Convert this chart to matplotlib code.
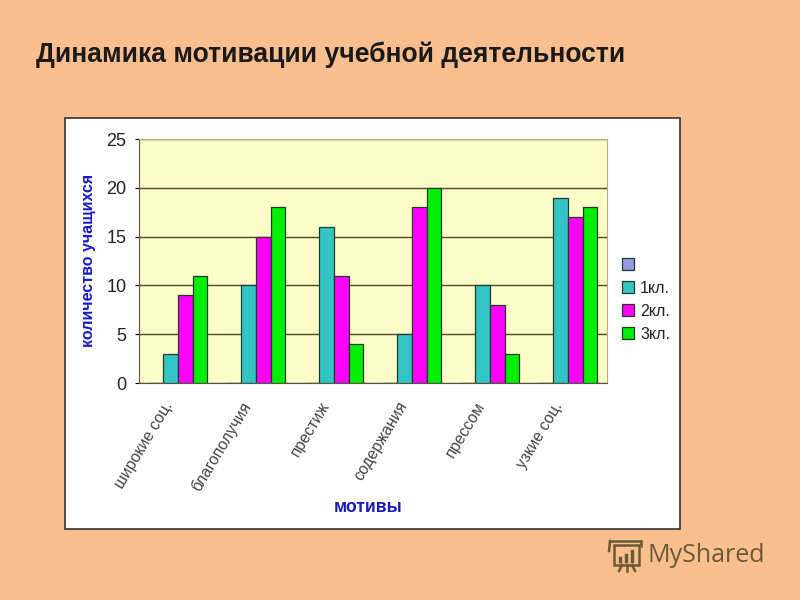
import matplotlib
matplotlib.use('Agg')
import matplotlib.pyplot as plt
from matplotlib.lines import Line2D
from matplotlib.patches import Rectangle
from matplotlib.transforms import ScaledTranslation
import numpy as np

plt.rcParams['font.family'] = ['Liberation Sans', 'DejaVu Sans']

W, H = 800, 600

motivy = ['широкие соц.', 'благополучия', 'престиж', 'содержания', 'прессом', 'узкие соц.']
serii = [' ', '1кл.', '2кл.', '3кл.']
kl0 = [0, 0, 0, 0, 0, 0]
kl1 = [3, 10, 16, 5, 10, 19]
kl2 = [9, 15, 11, 18, 8, 17]
kl3 = [11, 18, 4, 20, 3, 18]
y_ticks = [0, 5, 10, 15, 20, 25]
couleurs = ['#9999e6', '#33c4c4', '#ff00ff', '#00ee00']


def fig_box(x0, y0, x1, y1):
    # pixels depuis le haut gauche -> coordonnees figure
    return [x0 / W, 1 - y1 / H, (x1 - x0) / W, (y1 - y0) / H]


def trait(x0, y0, x1, y1, couleur, lw=1.8):
    fig.add_artist(Line2D([x0 / W, x1 / W], [1 - y0 / H, 1 - y1 / H], color=couleur, linewidth=lw,
                          transform=fig.transFigure))


fig = plt.figure(figsize=(8, 6), dpi=100, facecolor='#fbbf8f')

fig.text(36 / W, 1 - 55 / H, 'Динамика мотивации учебной деятельности',
         fontsize=19.1, fontweight='bold', color='#1a1a1a', va='center')

# panneau blanc
fig.add_artist(Rectangle((65 / W, 1 - 529 / H), 615 / W, 411 / H, transform=fig.transFigure,
                         facecolor='white', edgecolor='#333333', linewidth=1.2, zorder=-1))

ax = fig.add_axes(fig_box(139, 139, 607, 383))
ax.set_facecolor('#fdfdc8')

x = np.arange(len(motivy))
largeur = 0.186
for i, valeurs in enumerate([kl0, kl1, kl2, kl3]):
    ax.bar(x + (i - 1.5) * largeur, valeurs, largeur, color=couleurs[i],
           edgecolor='#1f3a2a', linewidth=0.9, label=serii[i], zorder=3)

ax.set_xlim(-0.5, 5.5)
ax.set_ylim(0, 25)
ax.set_yticks(y_ticks)
ax.tick_params(axis='y', labelsize=13, labelcolor='#222222', length=3, width=0.8, pad=6)
ax.set_xticks(x)
ax.set_xticklabels(motivy, rotation=59, ha='right', rotation_mode='anchor',
                   fontsize=11.4, color='#444444')
ax.tick_params(axis='x', length=0, pad=8)

# petit decalage des etiquettes vers la gauche
decalage = ScaledTranslation(-15 / 100, -5 / 100, fig.dpi_scale_trans)
for etiquette in ax.get_xticklabels():
    etiquette.set_transform(etiquette.get_transform() + decalage)

ax.grid(axis='y', color='#4a4a2a', linewidth=1, zorder=1)
for cote in ['top', 'right']:
    ax.spines[cote].set_color('#b0b090')
    ax.spines[cote].set_linewidth(0.8)
ax.spines['left'].set_color('#555544')
ax.spines['bottom'].set_color('#555544')

fig.text(88 / W, 1 - 260 / H, 'количество учащихся', rotation=90, fontsize=11.5,
         fontweight='bold', color='#1a1ac8', ha='center', va='center')
fig.text(368 / W, 1 - 507 / H, 'мотивы', fontsize=12.7, fontweight='bold',
         color='#1a1ab4', ha='center', va='center')

poignees, etiquettes = ax.get_legend_handles_labels()
fig.legend(poignees, etiquettes, loc='center left', bbox_to_anchor=(622 / W, 1 - 300 / H),
           frameon=False, fontsize=11.5, handlelength=0.78, handleheight=0.78,
           handletextpad=0.35, labelspacing=0.5, borderpad=0, borderaxespad=0,
           labelcolor='#222222')

# logo
logo = '#6b5a35'
fig.text(647 / W, 1 - 555 / H, 'MyShared', fontsize=18, color=logo, va='center',
         family=['Open Sans', 'DejaVu Sans'])
fig.add_artist(Rectangle((614 / W, 1 - 565 / H), 25 / W, 20 / H, transform=fig.transFigure,
                         facecolor='none', edgecolor=logo, linewidth=1.8))
trait(610, 541, 641, 541, logo)
trait(610, 541, 609, 551, logo)
trait(641, 541, 641, 546, logo)
trait(622, 565, 619, 571, logo)
trait(627, 565, 627, 571, logo)
trait(632, 565, 635, 571, logo)
trait(620, 561, 620, 558, logo, 2.5)
trait(626, 561, 626, 555, logo, 2.5)
trait(632, 561, 632, 551, logo, 2.5)

plt.savefig('out.png', dpi=100, facecolor=fig.get_facecolor())
plt.close()
